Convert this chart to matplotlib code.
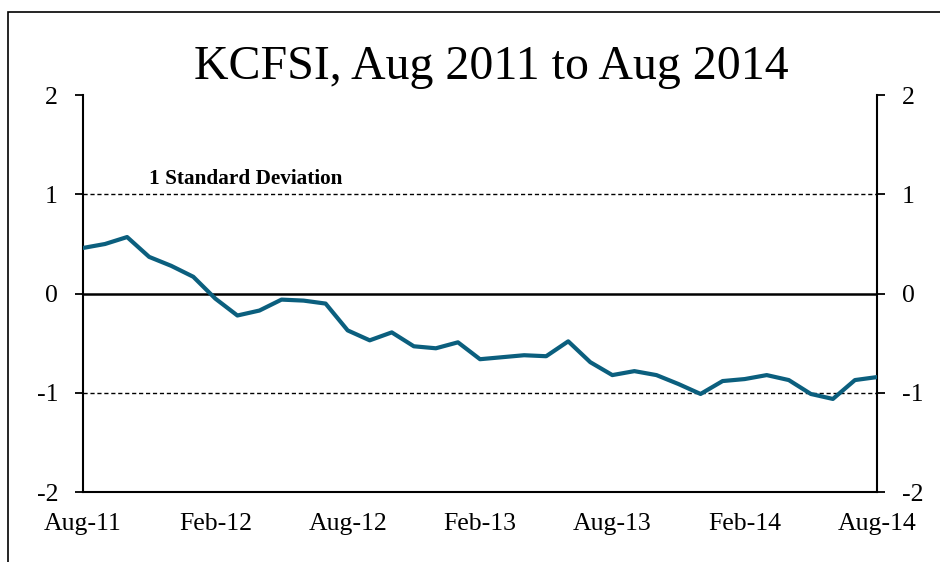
import matplotlib
matplotlib.use("Agg")
import matplotlib.pyplot as plt
from matplotlib.patches import Rectangle

values = [0.46, 0.50, 0.57, 0.37, 0.28, 0.17, -0.05, -0.22, -0.17, -0.06,
          -0.07, -0.10, -0.37, -0.47, -0.39, -0.53, -0.55, -0.49, -0.66, -0.64,
          -0.62, -0.63, -0.48, -0.69, -0.82, -0.78, -0.82, -0.91, -1.01, -0.88,
          -0.86, -0.82, -0.87, -1.01, -1.06, -0.87, -0.84]
months = list(range(len(values)))
tick_pos = [0, 6, 12, 18, 24, 30, 36]
tick_labels = ["Aug-11", "Feb-12", "Aug-12", "Feb-13", "Aug-13", "Feb-14", "Aug-14"]
yticks = [-2, -1, 0, 1, 2]

plt.rcParams['font.family'] = ['Liberation Serif', 'DejaVu Serif']

fig = plt.figure(figsize=(9.4, 5.62), dpi=100)
ax = fig.add_axes([83/940, (562-492.3)/562, (877-83)/940, (492.3-95)/562])

# outer frame
fig.patches.append(Rectangle((8/940, -0.05), 1.0, (562-12)/562 + 0.05,
                             transform=fig.transFigure, fill=False,
                             edgecolor='black', linewidth=1.2))

ax.plot(months, values, color='#0b5f7e', linewidth=3.0, zorder=3)
ax.axhline(0, color='black', linewidth=1.8, zorder=2)
for yv in (1, -1):
    ax.axhline(yv, color='black', linewidth=1.0, linestyle=(0, (3, 2)), zorder=2)

ax.text(3, 1.05, "1 Standard Deviation", fontsize=15.3, fontweight='bold',
        ha='left', va='bottom')

ax.set_xlim(0, 36)
ax.set_ylim(-2, 2)
ax.set_yticks(yticks)
ax.set_yticklabels([str(v) for v in yticks], fontsize=18.5)
ax.set_xticks(tick_pos)
ax.set_xticklabels(tick_labels, fontsize=18.5)
ax.tick_params(axis='x', length=0, pad=15)
ax.tick_params(axis='y', direction='out', length=6, width=1.3, pad=12,
               left=True, right=True, labelleft=True, labelright=True)
ax.spines['top'].set_visible(False)
for s in ('left', 'right', 'bottom'):
    ax.spines[s].set_linewidth(1.5)

fig.text(491/940, 1 - 67/562, "KCFSI, Aug 2011 to Aug 2014", fontsize=34.5,
         ha='center', va='center')

fig.savefig("out.png", dpi=100)
